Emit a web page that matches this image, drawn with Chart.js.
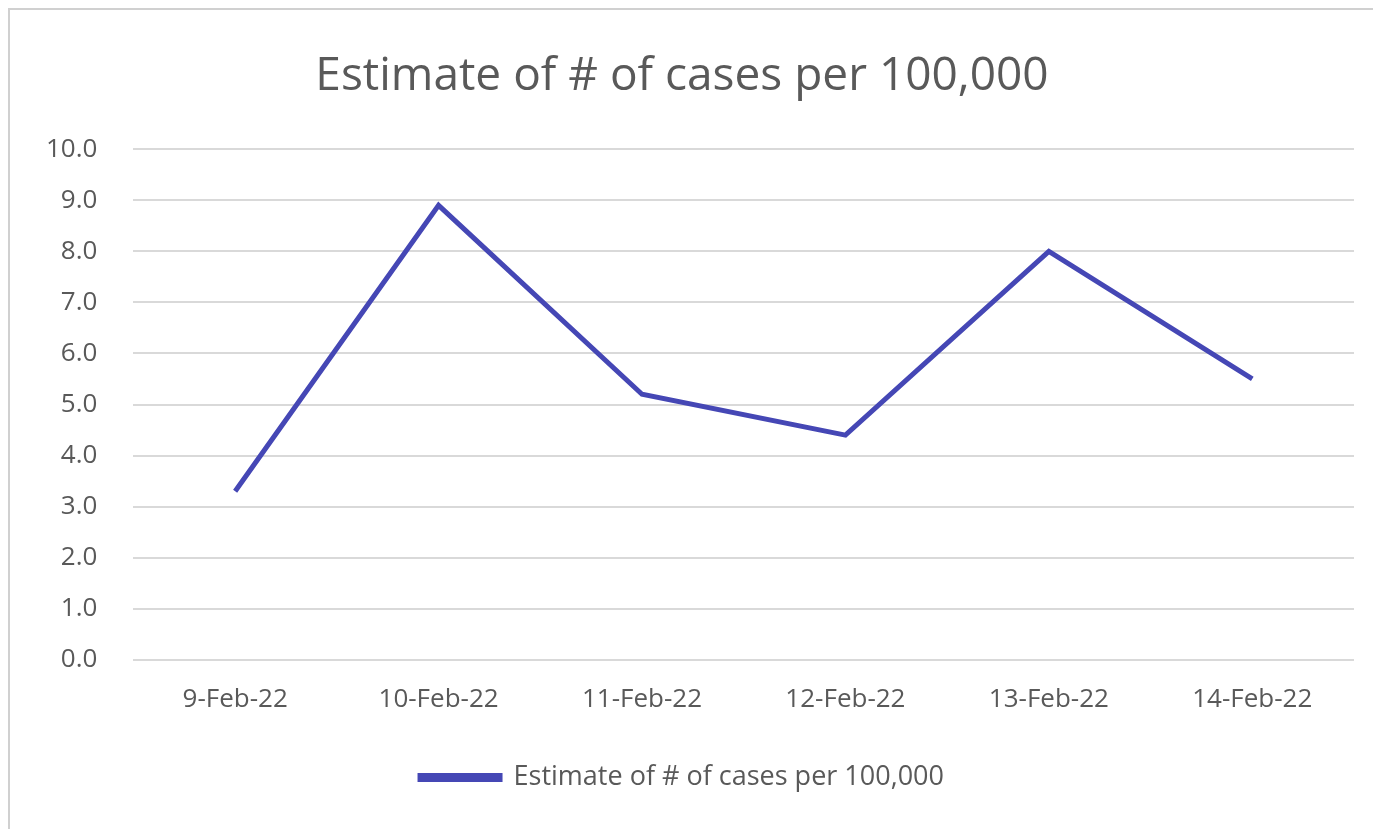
<!DOCTYPE html>
<html>
<head>
<meta charset="utf-8">
<script src="https://cdn.jsdelivr.net/npm/chart.js@4/dist/chart.umd.min.js"></script>
<style>
  html, body { margin: 0; padding: 0; background: #fff; }
  #wrap { position: absolute; left: 8px; top: 8px; width: 1365px; height: 821px; border-top: 2px solid #d0d0d0; border-left: 2px solid #d0d0d0; box-sizing: border-box; }
</style>
</head>
<body>
<div id="wrap"><canvas id="chart"></canvas></div>
<script>
/* Estimate of # of cases per 100,000 */
const dates = ['9-Feb-22', '10-Feb-22', '11-Feb-22', '12-Feb-22', '13-Feb-22', '14-Feb-22'];
const cases = [3.3, 8.9, 5.2, 4.4, 8.0, 5.5];
const seriesName = 'Estimate of # of cases per 100,000';

Chart.defaults.font.family = '"Open Sans", "Noto Sans", sans-serif';
Chart.defaults.color = '#595959';

new Chart(document.getElementById('chart'), {
    type: 'line',
    data: {
        labels: dates,
        datasets: [{
            label: seriesName,
            data: cases,
            borderColor: '#4547b5',
            backgroundColor: '#4547b5',
            borderWidth: 5,
            pointRadius: 0,
            tension: 0,
        }],
    },
    options: {
        responsive: true,
        maintainAspectRatio: false,
        animation: false,
        layout: { padding: { left: 0, right: 19, top: 20, bottom: 28 } },
        plugins: {
            title: {
                display: true,
                text: seriesName,
                font: { size: 46, weight: 'normal' },
                color: '#595959',
                padding: { top: 19, bottom: 45 },
            },
            legend: {
                position: 'bottom',
                labels: {
                    boxWidth: 80,
                    boxHeight: 4,
                    font: { size: 27 },
                    padding: 33,
                },
            },
            tooltip: { enabled: false },
        },
        scales: {
            x: {
                offset: true,
                grid: { display: false },
                border: { display: false },
                ticks: { font: { size: 26 }, padding: 16, maxRotation: 0 },
            },
            y: {
                min: 0,
                max: 10,
                grid: { color: '#d9d9d9', lineWidth: 2, drawTicks: false },
                border: { display: false },
                ticks: {
                    stepSize: 1,
                    font: { size: 26 },
                    padding: 36,
                    callback: v => v.toFixed(1),
                },
            },
        },
    },
});
</script>
</body>
</html>
